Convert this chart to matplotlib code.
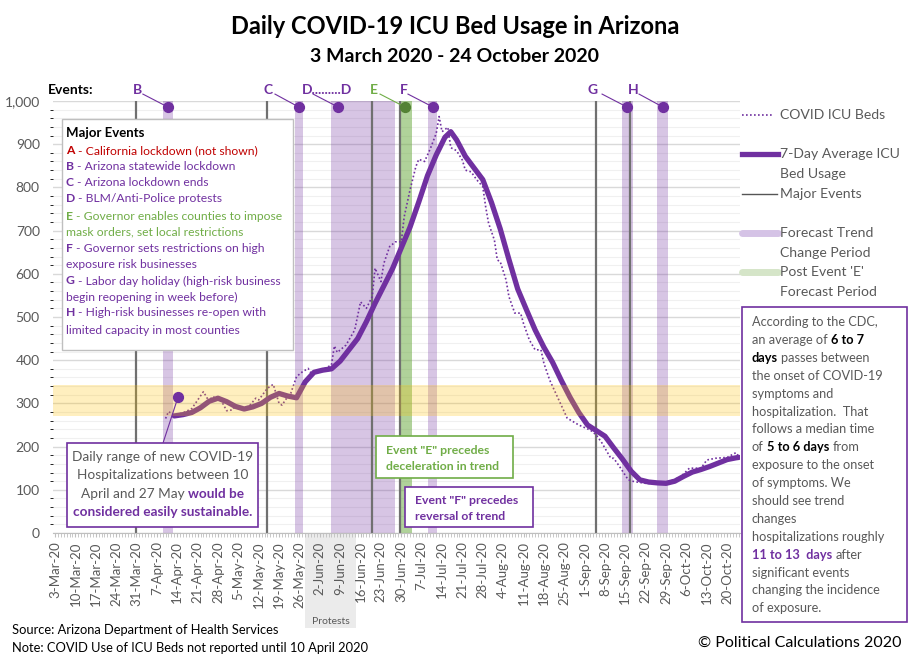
import numpy as np
import pandas as pd
import matplotlib
matplotlib.use('Agg')
import matplotlib.pyplot as plt
from matplotlib.patches import Rectangle

plt.rcParams['font.family'] = ['Lato', 'DejaVu Sans']

# x values are days after 3 March 2020
START = pd.Timestamp('2020-03-03')

# 7-day average ICU bed usage
avg_day = [41, 44, 47, 50, 53, 56, 59, 62, 65, 68, 71, 74, 77, 80, 83, 86, 89, 92, 95, 98,
           101, 104, 107, 110, 113, 116, 119, 122, 125, 128, 131, 134, 136, 138, 141, 144,
           147, 150, 153, 156, 159, 162, 165, 168, 171, 174, 177, 180, 183, 186, 189, 192,
           195, 198, 201, 204, 207, 210, 213, 216, 219, 222, 225, 228, 231, 234, 235]
avg_val = [271, 274, 279, 290, 305, 312, 304, 293, 287, 292, 300, 314, 323, 317, 313, 350,
           372, 377, 380, 398, 424, 450, 489, 532, 572, 612, 660, 708, 766, 827, 875, 916,
           929, 910, 872, 845, 818, 765, 704, 633, 565, 517, 470, 430, 395, 353, 314, 279,
           250, 237, 224, 197, 171, 143, 123, 118, 116, 115, 120, 131, 141, 147, 154, 162,
           170, 174, 175]

# daily COVID ICU beds (dotted)
daily_day = [38, 39, 41, 44, 47, 51, 53, 54, 57, 59, 61, 62, 65, 67, 69, 70, 73, 75, 77, 78,
             80, 81, 83, 85, 87, 88, 92, 95, 96, 97, 100, 103, 105, 107, 109, 110, 112, 113,
             115, 117, 119, 120, 122, 124, 125, 127, 129, 131, 132, 133, 135, 136, 138, 140,
             141, 143, 145, 147, 148, 149, 151, 152, 153, 155, 156, 158, 160, 161, 163, 165,
             167, 168, 170, 173, 176, 178, 180, 184, 186, 188, 191, 192, 194, 197, 199, 203,
             208, 211, 215, 218, 222, 224, 227, 231, 234, 235]
daily_val = [265, 281, 273, 278, 288, 327, 304, 316, 308, 283, 285, 296, 288, 296, 312, 308,
             335, 344, 300, 296, 316, 323, 362, 373, 381, 370, 378, 389, 433, 418, 435, 470,
             535, 520, 547, 613, 582, 624, 663, 674, 674, 732, 794, 848, 865, 860, 890, 925,
             964, 929, 939, 892, 885, 863, 840, 836, 817, 802, 755, 717, 678, 632, 628, 586,
             547, 509, 509, 485, 447, 424, 424, 393, 354, 310, 266, 258, 250, 238, 227, 208,
             173, 173, 154, 123, 119, 115, 115, 119, 130, 150, 150, 169, 173, 175, 186, 177]

# major events
event_line_day = [27.8, 72.9, 108.9, 118.6, 185.9, 197.6]
event_names = ['B', 'C', 'D', 'E', 'F', 'G', 'H']
event_label_day = [28.2, 73.2, 93.5, 109.6, 119.9, 184.9, 198.6]
event_label_text = ['B', 'C', 'D.........D', 'E', 'F', 'G', 'H']
event_link_day = [30.2, 75.6, 88.7, 111.7, 121.3, 188.0, 200.7]
event_dot_day = [38.8, 83.8, 97.3, 120.3, 129.9, 196.6, 208.9]
trend_start = [37.1, 82.5, 94.8, 128.2, 194.8, 206.9]
trend_end = [40.5, 85.2, 116.8, 131.3, 198.6, 210.7]
post_e_start, post_e_end = 118.6, 122.7
sustainable_low, sustainable_high = 270, 343
protest_px = (305, 356)

PURPLE = '#7030A0'
GREEN = '#70AD47'
DKGREEN = '#548235'
GREY = '#595959'
RED = '#C00000'

fig = plt.figure(figsize=(9.1, 6.61), dpi=100)

bg = fig.add_axes([0, 0, 1, 1], zorder=-1)
bg.set_xlim(0, 910)
bg.set_ylim(661, 0)
bg.axis('off')
bg.add_patch(Rectangle((protest_px[0], 533), protest_px[1] - protest_px[0], 95,
                       fc='#EBEBEB', ec='none'))

ax = fig.add_axes([53 / 910, 1 - 533 / 661, 687 / 910, 432 / 661])
ax.set_xlim(-0.69, 235.4)
ax.set_ylim(0, 1000)

ax.set_yticks(range(0, 1001, 100))
ax.set_yticks(range(0, 1001, 20), minor=True)
ax.set_yticklabels([f'{v:,}' for v in range(0, 1001, 100)])
ax.grid(which='major', axis='y', color='#D9D9D9', lw=1, zorder=0)
ax.grid(which='minor', axis='y', color='#F0F0F0', lw=0.8, zorder=0)
ax.set_axisbelow(True)

tick_days = list(range(0, 232, 7))
tick_labels = []
for d in tick_days:
    t = START + pd.Timedelta(days=d)
    tick_labels.append(f"{t.day}-{t.strftime('%b')}-20")
ax.set_xticks(tick_days)
ax.set_xticklabels(tick_labels, rotation=90, fontsize=9.5, color=GREY)
ax.set_xticks(np.arange(0, 236), minor=True)
ax.tick_params(axis='x', which='both', length=3, color='#BFBFBF', pad=3)
ax.tick_params(axis='y', length=0, pad=9.5, labelsize=10, labelcolor=GREY)
for s in ['top', 'right', 'left']:
    ax.spines[s].set_visible(False)
ax.spines['bottom'].set_color('#BFBFBF')

# forecast shading
for s, e in zip(trend_start, trend_end):
    ax.axvspan(s, e, color=PURPLE, alpha=0.28, lw=0, zorder=1)
ax.axvspan(post_e_start, post_e_end, color=GREEN, alpha=0.55, lw=0, zorder=1)

for d in event_line_day:
    ax.axvline(d, color='#707070', lw=1.6, zorder=2)

ax.plot(daily_day, daily_val, color=PURPLE, lw=1.2, ls=(0, (1, 1.4)), zorder=3)
ax.plot(avg_day, avg_val, color=PURPLE, lw=3.8, zorder=3, solid_capstyle='round')

ax.axhspan(sustainable_low, sustainable_high, color='#FFC000', alpha=0.25, lw=0, zorder=4)

# event markers above the plot
for name, lx, ltxt, kx, dx in zip(event_names, event_label_day, event_label_text,
                                  event_link_day, event_dot_day):
    col = DKGREEN if name == 'E' else PURPLE
    lcol = GREEN if name == 'E' else PURPLE
    ax.text(lx, 1025, ltxt, ha='center', va='center', fontsize=10, fontweight='bold',
            color=lcol, clip_on=False)
    ax.plot([kx, dx], [1016, 986], color=lcol, lw=0.8, clip_on=False, zorder=5)
    ax.scatter([dx], [985], s=50, color=col, zorder=6, clip_on=False)

# sustainable range pointer
ax.plot([37.1, 42.3], [208, 315], color=PURPLE, lw=0.8, zorder=5)
ax.scatter([42.3], [315], s=50, color=PURPLE, zorder=6)

# overlay in pixel coordinates
ov = fig.add_axes([0, 0, 1, 1], zorder=10)
ov.set_xlim(0, 910)
ov.set_ylim(661, 0)
ov.axis('off')
ov.patch.set_visible(False)
renderer = fig.canvas.get_renderer()


def width(s, size, weight):
    t = ov.text(0, 0, s, fontsize=size, fontweight=weight)
    w = t.get_window_extent(renderer).width
    t.remove()
    return w


def seg_line(x, y, parts, size, ha='left'):
    sw = width('a a', size, 'normal') - width('aa', size, 'normal')
    items = []
    total = 0
    for s, color, weight in parts:
        core = s.strip()
        lead = (len(s) - len(s.lstrip())) * sw
        trail = (len(s) - len(s.rstrip())) * sw
        w = width(core, size, weight)
        items.append((core, color, weight, lead, w, trail))
        total += lead + w + trail
    cur = x - total / 2 if ha == 'center' else x
    for core, color, weight, lead, w, trail in items:
        cur += lead
        ov.text(cur, y, core, fontsize=size, color=color, fontweight=weight,
                ha='left', va='center')
        cur += w + trail


ov.text(455, 27, 'Daily COVID-19 ICU Bed Usage in Arizona', ha='center', va='center',
        fontsize=17, fontweight='bold')
ov.text(455, 56, '3 March 2020 - 24 October 2020', ha='center', va='center',
        fontsize=14, fontweight='bold')
ov.text(48, 90, 'Events:', ha='left', va='center', fontsize=10, fontweight='bold')

# major events box
ov.add_patch(Rectangle((62, 119), 231, 231, fc='white', ec='#BFBFBF', lw=1))
ov.text(66, 133, 'Major Events', fontsize=9.5, fontweight='bold', va='center')
ev_lines = [
    (151, 'A', ' - California lockdown (not shown)', RED),
    (167, 'B', ' - Arizona statewide lockdown', PURPLE),
    (183, 'C', ' - Arizona lockdown ends', PURPLE),
    (199, 'D', ' - BLM/Anti-Police protests', PURPLE),
    (216, 'E', ' - Governor enables counties to impose', GREEN),
    (232, '', 'mask orders, set local restrictions', GREEN),
    (248, 'F', ' - Governor sets restrictions on high', PURPLE),
    (265, '', 'exposure risk businesses', PURPLE),
    (281, 'G', ' - Labor day holiday (high-risk business', PURPLE),
    (297, '', 'begin reopening in week before)', PURPLE),
    (313, 'H', ' - High-risk businesses re-open with', PURPLE),
    (330, '', 'limited capacity in most counties', PURPLE),
]
for y, letter, rest, col in ev_lines:
    parts = [(letter, col, 'bold'), (rest, col, 'normal')] if letter else [(rest, col, 'normal')]
    seg_line(66, y, parts, 8.7)

# right legend
ov.plot([742, 773], [115, 115], color=PURPLE, lw=1.2, ls=(0, (1, 1.4)))
ov.plot([742, 778], [154, 154], color=PURPLE, lw=3.8)
ov.plot([742, 777], [194, 194], color='#555555', lw=1)
ov.plot([742, 778], [233, 233], color='#D5C3E6', lw=5, solid_capstyle='round')
ov.plot([742, 778], [272, 272], color='#D5E5C8', lw=5, solid_capstyle='round')
for y, s in [(115, 'COVID ICU Beds'), (154, '7-Day Average ICU'), (174, 'Bed Usage'),
             (194, 'Major Events'), (233, 'Forecast Trend'), (253, 'Change Period'),
             (272, "Post Event 'E'"), (292, 'Forecast Period')]:
    ov.text(780, y, s, fontsize=10.1, color=GREY, va='center', ha='left')

# CDC note box
ov.add_patch(Rectangle((742, 307), 165, 315, fc='white', ec=PURPLE, lw=1.2))
cdc_lines = [
    [('According to the CDC,', GREY, 'normal')],
    [('an average of ', GREY, 'normal'), ('6 to 7', 'black', 'bold')],
    [('days', 'black', 'bold'), (' passes between', GREY, 'normal')],
    [('the onset of COVID-19', GREY, 'normal')],
    [('symptoms and', GREY, 'normal')],
    [('hospitalization.  That', GREY, 'normal')],
    [('follows a median time', GREY, 'normal')],
    [('of ', GREY, 'normal'), ('5 to 6 days', 'black', 'bold'), (' from', GREY, 'normal')],
    [('exposure to the onset', GREY, 'normal')],
    [('of symptoms. We', GREY, 'normal')],
    [('should see trend', GREY, 'normal')],
    [('changes', GREY, 'normal')],
    [('hospitalizations roughly', GREY, 'normal')],
    [('11 to 13  days', PURPLE, 'bold'), (' after', GREY, 'normal')],
    [('significant events', GREY, 'normal')],
    [('changing the incidence', GREY, 'normal')],
    [('of exposure.', GREY, 'normal')],
]
for i, parts in enumerate(cdc_lines):
    seg_line(752, 322 + i * 17.9, parts, 9.2)

# sustainable range box
ov.add_patch(Rectangle((67, 443), 191, 84, fc='white', ec=PURPLE, lw=1.2))
sus_lines = [
    [('Daily range of new COVID-19', GREY, 'normal')],
    [('Hospitalizations between 10', GREY, 'normal')],
    [('April and 27 May ', GREY, 'normal'), ('would be', PURPLE, 'bold')],
    [('considered easily sustainable.', PURPLE, 'bold')],
]
for i, parts in enumerate(sus_lines):
    seg_line(162.5, 457 + i * 18.3, parts, 9.8, ha='center')

# event E / F boxes
ov.add_patch(Rectangle((376, 436), 137, 42, fc='white', ec=GREEN, lw=1.2))
ov.text(386, 450, 'Event "E" precedes', fontsize=8.8, color=GREEN, fontweight='bold', va='center')
ov.text(386, 466, 'deceleration in trend', fontsize=8.8, color=GREEN, fontweight='bold', va='center')
ov.add_patch(Rectangle((405, 487), 128, 40, fc='white', ec=PURPLE, lw=1.2))
ov.text(415, 500, 'Event "F" precedes', fontsize=8.8, color=PURPLE, fontweight='bold', va='center')
ov.text(415, 516, 'reversal of trend', fontsize=8.8, color=PURPLE, fontweight='bold', va='center')

ov.text(330.5, 621, 'Protests', fontsize=7.5, color=GREY, ha='center', va='center')

ov.text(12, 630, 'Source: Arizona Department of Health Services', fontsize=9.3, va='center')
ov.text(12, 648, 'Note: COVID Use of ICU Beds not reported until 10 April 2020', fontsize=9.3,
        va='center')
ov.text(902, 643, '\u00a9 Political Calculations 2020', fontsize=11.5, ha='right', va='center')

fig.savefig('out.png', dpi=100)
